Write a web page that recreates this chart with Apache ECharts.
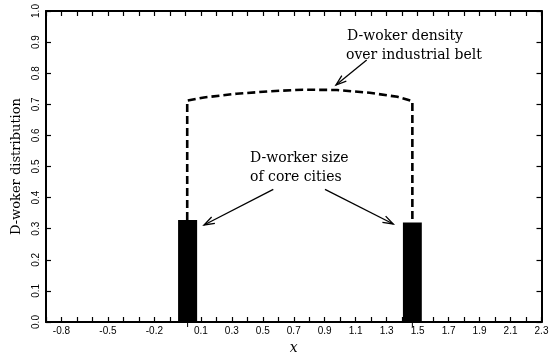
<!DOCTYPE html>
<html>
<head>
<meta charset="utf-8">
<script src="https://cdn.jsdelivr.net/npm/echarts@6/dist/echarts.min.js"></script>
<style>
  html, body { margin: 0; padding: 0; background: #fff; }
  #chart { width: 550px; height: 354px; }
</style>
</head>
<body>
<div id="chart"></div>
<script>
// Tick labels printed along the x axis (ticks every 0.1, only these are labelled)
const xTickLabels = ['-0.8', '-0.5', '-0.2', '0.1', '0.3', '0.5', '0.7', '0.9',
                     '1.1', '1.3', '1.5', '1.7', '1.9', '2.1', '2.3'];

// Core cities: bar extents along x and D-worker size
const cityLeft  = [-0.047, 1.405];
const cityRight = [0.076, 1.527];
const citySize  = [0.328, 0.320];

// D-worker density over the industrial belt (dashed outline, incl. the two verticals)
const beltX = [0.012, 0.012, 0.12, 0.33, 0.55, 0.76, 0.98, 1.19, 1.37, 1.466, 1.466];
const beltY = [0.328, 0.712, 0.722, 0.734, 0.742, 0.747, 0.746, 0.737, 0.724, 0.710, 0.320];

const SERIF = '"DejaVu Serif", "Liberation Serif", serif';
const SANS = '"Liberation Sans", Arial, sans-serif';

function arrow(x1, y1, x2, y2) {
  const ang = Math.atan2(y2 - y1, x2 - x1);
  const len = 11, spread = 0.33;
  const a = [x2 - len * Math.cos(ang - spread), y2 - len * Math.sin(ang - spread)];
  const b = [x2 - len * Math.cos(ang + spread), y2 - len * Math.sin(ang + spread)];
  return {
    type: 'group',
    children: [
      { type: 'line', shape: { x1, y1, x2, y2 }, style: { stroke: '#000', lineWidth: 1.3 } },
      { type: 'polyline', shape: { points: [a, [x2, y2], b] },
        style: { stroke: '#000', lineWidth: 1.3, fill: null } }
    ]
  };
}

function label(text, x, y) {
  return { type: 'text', x, y,
    style: { text, fill: '#000', font: '14px ' + SERIF, verticalAlign: 'middle', align: 'left' } };
}

const chart = echarts.init(document.getElementById('chart'), null, { renderer: 'canvas' });

const axisCommon = {
  type: 'value',
  splitLine: { show: false },
  axisLine: { show: true, onZero: false, lineStyle: { color: '#000', width: 2 } },
  axisTick: { show: true, inside: true, length: 5, lineStyle: { color: '#000', width: 1.2 } }
};

chart.setOption({
  animation: false,
  backgroundColor: '#fff',
  grid: { left: 46, right: 8.5, top: 11, bottom: 32, containLabel: false, outerBoundsMode: 'none' },
  xAxis: [
    Object.assign({}, axisCommon, {
      min: -0.9, max: 2.3, interval: 0.1, position: 'bottom',
      name: 'x', nameLocation: 'middle', nameGap: 18,
      nameTextStyle: { fontFamily: SERIF, fontStyle: 'italic', fontSize: 14, color: '#000' },
      axisLabel: {
        show: true, margin: 4, color: '#000', fontFamily: SANS, fontSize: 10,
        showMinLabel: true, showMaxLabel: true,
        formatter: v => {
          const s = (Math.round(v * 10) / 10).toFixed(1);
          return xTickLabels.includes(s) ? s : '';
        }
      }
    }),
    Object.assign({}, axisCommon, {
      min: -0.9, max: 2.3, interval: 0.1, position: 'top',
      axisLabel: { show: false }
    })
  ],
  yAxis: [
    Object.assign({}, axisCommon, {
      min: 0, max: 1, interval: 0.1, position: 'left',
      name: 'D-woker distribution', nameLocation: 'middle', nameGap: 20,
      nameTextStyle: { fontFamily: SERIF, fontSize: 13, color: '#000' },
      axisLabel: {
        show: true, rotate: 90, margin: 5, color: '#000', fontFamily: SANS, fontSize: 10,
        formatter: v => v.toFixed(1)
      }
    }),
    Object.assign({}, axisCommon, {
      min: 0, max: 1, interval: 0.1, position: 'right',
      axisLabel: { show: false }
    })
  ],
  series: [
    {
      name: 'core cities',
      type: 'custom',
      xAxisIndex: 0, yAxisIndex: 0,
      data: cityLeft.map((l, i) => [l, cityRight[i], citySize[i]]),
      encode: { x: [0, 1], y: 2 },
      renderItem: (params, api) => {
        const tl = api.coord([api.value(0), api.value(2)]);
        const br = api.coord([api.value(1), 0]);
        const cx = (tl[0] + br[0]) / 2;
        return {
          type: 'group',
          children: [
            { type: 'rect', shape: { x: tl[0], y: tl[1], width: br[0] - tl[0], height: br[1] - tl[1] },
              style: { fill: '#000' } },
            { type: 'line', shape: { x1: cx, y1: br[1], x2: cx, y2: br[1] + 5 },
              style: { stroke: '#000', lineWidth: 1 } }
          ]
        };
      }
    },
    {
      name: 'industrial belt',
      type: 'line',
      xAxisIndex: 0, yAxisIndex: 0,
      data: beltX.map((x, i) => [x, beltY[i]]),
      showSymbol: false,
      symbol: 'none',
      lineStyle: { color: '#000', width: 2.6, type: [8, 4] }
    }
  ],
  graphic: [
    label('D-woker density', 347, 36.8),
    label('over industrial belt', 346, 55.3),
    label('D-worker size', 250, 158.5),
    label('of core cities', 250, 177),
    arrow(366.7, 60, 336, 85),
    arrow(273.3, 189.3, 204, 225),
    arrow(325, 189.3, 393.3, 224)
  ]
});
</script>
</body>
</html>
